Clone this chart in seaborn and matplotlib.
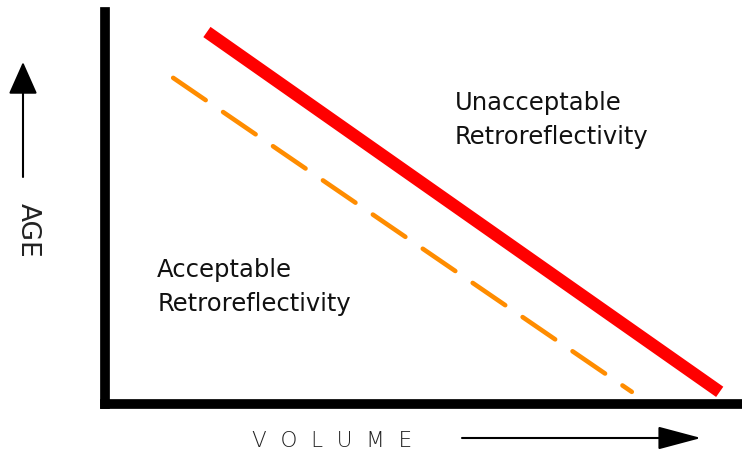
import pandas as pd
import numpy as np
import matplotlib
matplotlib.use("Agg")
import matplotlib.pyplot as plt
import seaborn as sns

# line end points (volume, age), axes run 0..10
unacc_volume = [1.60, 9.65]
unacc_age = [9.49, 0.31]
acc_volume = [1.07, 8.27]
acc_age = [8.32, 0.31]

labels = ["Unacceptable\nRetroreflectivity", "Acceptable\nRetroreflectivity"]
label_pos = [(5.49, 7.98), (0.82, 3.72)]

sns.set_style("white")
plt.rcParams['font.family'] = ['DejaVu Sans']

fig = plt.figure(figsize=(7.42, 4.54), dpi=100)
ax = fig.add_axes([105 / 742, 50 / 454, 637 / 742, 392 / 454])

red = pd.DataFrame({'volume': unacc_volume, 'age': unacc_age})
orange = pd.DataFrame({'volume': acc_volume, 'age': acc_age})

sns.lineplot(data=red, x='volume', y='age', color='#ff0000', linewidth=9,
             solid_capstyle='butt', ax=ax)
sns.lineplot(data=orange, x='volume', y='age', color='#ff8c00', linewidth=3.3,
             ax=ax)
ax.lines[-1].set_dashes([8.6, 4.6])
ax.lines[-1].set_dash_capstyle('round')

ax.set_xlim(0, 10)
ax.set_ylim(0, 10)
ax.set_xticks([])
ax.set_yticks([])
ax.set_xlabel('')
ax.set_ylabel('')

for side in ['top', 'right']:
    ax.spines[side].set_visible(False)
for side in ['left', 'bottom']:
    ax.spines[side].set_linewidth(7)
    ax.spines[side].set_color('black')

for txt, (x, y) in zip(labels, label_pos):
    ax.text(x, y, txt, fontsize=17.5, va='top', ha='left',
            linespacing=1.5, color='#111111')

# axis captions and arrows in figure pixels
fig.text(332 / 742, 1 - 441 / 454, "V  O  L  U  M  E", fontsize=15.5,
         ha='center', va='center', color='#222222', fontweight='light')
fig.text(28 / 742, 1 - 230 / 454, "AGE", fontsize=19, ha='center',
         va='center', rotation=-90, color='#222222')

fig.patches.append(matplotlib.patches.FancyArrowPatch(
    (462 / 742, 1 - 438 / 454), (701 / 742, 1 - 438 / 454),
    transform=fig.transFigure, arrowstyle='-|>,head_length=18,head_width=4.8',
    mutation_scale=1.5, color='black', linewidth=1.5, shrinkA=0, shrinkB=0))
fig.patches.append(matplotlib.patches.FancyArrowPatch(
    (23 / 742, 1 - 177 / 454), (23 / 742, 1 - 62 / 454),
    transform=fig.transFigure, arrowstyle='-|>,head_length=13.5,head_width=6',
    mutation_scale=1.5, color='black', linewidth=1.5, shrinkA=0, shrinkB=0))

fig.savefig('out.png', dpi=100, facecolor='white')
